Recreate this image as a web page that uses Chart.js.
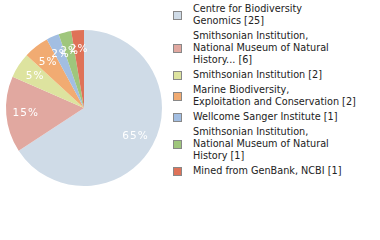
<!DOCTYPE html>
<html>
<head>
<meta charset="utf-8">
<script src="https://cdn.jsdelivr.net/npm/chart.js@4/dist/chart.umd.min.js"></script>
<style>
  html, body { margin: 0; padding: 0; background: #fff; }
  body { width: 380px; height: 240px; position: relative; overflow: hidden; font-family: "DejaVu Sans", sans-serif; }
  #wrap { position: absolute; left: 0; top: 0; width: 168px; height: 216px; }
  #legend { position: absolute; left: 173px; top: 3px; width: 205px; font-size: 9.7px; line-height: 12px; color: #222; }
  .item { display: flex; align-items: center; margin-bottom: 3px; }
  .sw { width: 7px; height: 7px; border: 1px solid #888; margin-right: 11px; flex: none; }
  .txt { white-space: pre-line; }
</style>
</head>
<body>
<div id="wrap"><canvas id="c"></canvas></div>
<div id="legend"></div>
<script>
const categories = [
  "Centre for Biodiversity\nGenomics",
  "Smithsonian Institution,\nNational Museum of Natural\nHistory...",
  "Smithsonian Institution",
  "Marine Biodiversity,\nExploitation and Conservation",
  "Wellcome Sanger Institute",
  "Smithsonian Institution,\nNational Museum of Natural\nHistory",
  "Mined from GenBank, NCBI"
];
const counts = [25, 6, 2, 2, 1, 1, 1];
const colors = ["#cfdbe7", "#e1a8a0", "#dde39f", "#f1ab72", "#a2bee2", "#9fc67c", "#df7258"];

const total = counts.reduce((a, b) => a + b, 0);

const pctLabels = {
  id: 'pctLabels',
  afterDatasetsDraw(chart) {
    const ctx = chart.ctx;
    const meta = chart.getDatasetMeta(0);
    ctx.save();
    ctx.fillStyle = '#fff';
    ctx.font = '10.5px "DejaVu Sans", sans-serif';
    ctx.letterSpacing = '1px';
    ctx.textAlign = 'center';
    ctx.textBaseline = 'middle';
    meta.data.forEach((arc, i) => {
      const a = (arc.startAngle + arc.endAngle) / 2;
      const r = arc.outerRadius * 0.75;
      const x = arc.x + Math.cos(a) * r;
      const y = arc.y + Math.sin(a) * r;
      ctx.fillText(Math.floor(counts[i] / total * 100) + '%', x, y);
    });
    ctx.restore();
  }
};

new Chart(document.getElementById('c'), {
  type: 'pie',
  data: {
    labels: categories.map(s => s.replace(/\n/g, ' ')),
    datasets: [{ data: counts, backgroundColor: colors, borderWidth: 0 }]
  },
  options: {
    responsive: true,
    maintainAspectRatio: false,
    animation: false,
    layout: { padding: 6 },
    plugins: { legend: { display: false }, tooltip: { enabled: false } }
  },
  plugins: [pctLabels]
});

const leg = document.getElementById('legend');
categories.forEach((c, i) => {
  const it = document.createElement('div');
  it.className = 'item';
  const sw = document.createElement('div');
  sw.className = 'sw';
  sw.style.background = colors[i];
  const t = document.createElement('div');
  t.className = 'txt';
  t.textContent = c + ' [' + counts[i] + ']';
  it.appendChild(sw);
  it.appendChild(t);
  leg.appendChild(it);
});
</script>
</body>
</html>
